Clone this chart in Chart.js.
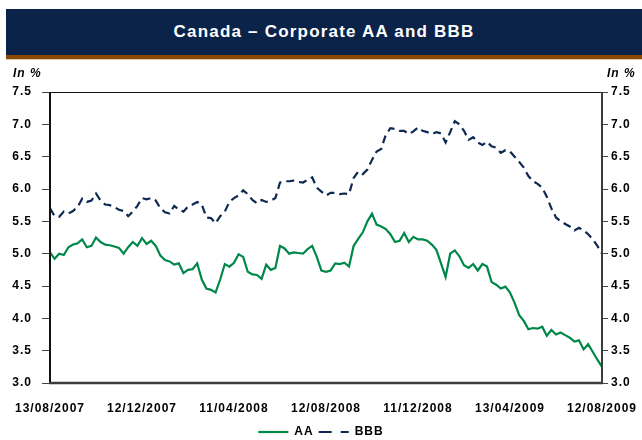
<!DOCTYPE html>
<html>
<head>
<meta charset="utf-8">
<script src="https://cdn.jsdelivr.net/npm/chart.js@4.4.1/dist/chart.umd.min.js"></script>
<style>
  body { margin: 0; background: #fff; }
  #wrap { position: relative; width: 642px; height: 440px; overflow: hidden; }
  #banner {
    position: absolute; left: 6px; top: 9px; width: 636px; height: 46px;
    background: #0b2349; color: #fff; text-align: center;
    font: bold 17px Arial, "Liberation Sans", sans-serif; letter-spacing: 1.2px;
    line-height: 46px;
  }
  #stripe { position: absolute; left: 6px; top: 55px; width: 636px; height: 4px; background: #8a4a06; }
  #stripe2 { position: absolute; left: 6px; top: 59px; width: 636px; height: 1px; background: #dcc8ac; }
  .unit {
    position: absolute; top: 66px; font: italic bold 12px Arial, "Liberation Sans", sans-serif;
    letter-spacing: 1px; color: #000;
  }
  canvas { position: absolute; left: 0; top: 0; }
</style>
</head>
<body>
<div id="wrap">
  <canvas id="rateChart" width="642" height="440"></canvas>
  <div id="banner">Canada – Corporate AA and BBB</div>
  <div id="stripe"></div>
  <div id="stripe2"></div>
  <div class="unit" style="left:13px">In %</div>
  <div class="unit" style="left:607px">In %</div>
</div>
<script>
  // x axis labels, one every 20 weekly points
  const tickLabels = ['13/08/2007', '12/12/2007', '11/04/2008', '12/08/2008', '11/12/2008', '13/04/2009', '12/08/2009'];

  // weekly readings, 13/08/2007 .. 12/08/2009
  const aa = [
    5.02, 4.92, 5.00, 4.98, 5.10, 5.14, 5.16, 5.22, 5.10, 5.12,
    5.25, 5.18, 5.14, 5.13, 5.11, 5.09, 5.00, 5.10, 5.18, 5.12,
    5.24, 5.15, 5.20, 5.12, 4.97, 4.90, 4.88, 4.83, 4.85, 4.70,
    4.75, 4.76, 4.85, 4.60, 4.46, 4.44, 4.40, 4.60, 4.84, 4.80,
    4.86, 4.99, 4.95, 4.72, 4.68, 4.67, 4.61, 4.83, 4.75, 4.78,
    5.12, 5.08, 5.00, 5.02, 5.01, 5.00, 5.07, 5.12, 4.95, 4.74,
    4.72, 4.74, 4.85, 4.84, 4.86, 4.80, 5.12, 5.23, 5.33, 5.50,
    5.62, 5.45, 5.42, 5.38, 5.30, 5.18, 5.20, 5.32, 5.18, 5.26,
    5.22, 5.22, 5.20, 5.14, 5.06, 4.85, 4.64, 5.00, 5.05, 4.96,
    4.82, 4.78, 4.84, 4.74, 4.84, 4.80, 4.56, 4.52, 4.46, 4.49,
    4.40, 4.24, 4.05, 3.96, 3.83, 3.85, 3.84, 3.87, 3.73, 3.82,
    3.75, 3.78, 3.74, 3.70, 3.64, 3.66, 3.52, 3.60, 3.48, 3.36,
    3.25
  ];
  const bbb = [
    5.70, 5.58, 5.57, 5.65, 5.62, 5.66, 5.72, 5.85, 5.80, 5.82,
    5.93, 5.82, 5.76, 5.75, 5.72, 5.68, 5.66, 5.58, 5.65, 5.74,
    5.86, 5.84, 5.86, 5.82, 5.70, 5.64, 5.62, 5.74, 5.68, 5.65,
    5.73, 5.76, 5.80, 5.76, 5.56, 5.55, 5.47, 5.58, 5.65, 5.80,
    5.86, 5.90, 5.98, 5.92, 5.83, 5.78, 5.83, 5.80, 5.82, 5.86,
    6.10, 6.12, 6.12, 6.13, 6.11, 6.10, 6.14, 6.18, 6.02, 5.96,
    5.90, 5.94, 5.94, 5.92, 5.93, 5.92, 6.17, 6.27, 6.23, 6.30,
    6.45, 6.58, 6.62, 6.84, 6.94, 6.93, 6.90, 6.90, 6.85, 6.89,
    6.95, 6.90, 6.88, 6.85, 6.88, 6.86, 6.72, 6.88, 7.05, 7.00,
    6.90, 6.76, 6.80, 6.72, 6.68, 6.73, 6.66, 6.64, 6.56, 6.60,
    6.58, 6.50, 6.42, 6.33, 6.20, 6.12, 6.08, 6.02, 5.88, 5.70,
    5.56, 5.50, 5.46, 5.42, 5.36, 5.40, 5.36, 5.30, 5.22, 5.12,
    5.00
  ];

  const weeks = aa.map((v, i) => i);
  const font = { family: 'Arial, "Liberation Sans", sans-serif', size: 12, weight: 'bold' };

  // canvas letter spacing, the reference text is set wide
  const spacing = {
    id: 'spacing',
    beforeLayout(c) { c.ctx.letterSpacing = '1px'; },
    beforeDraw(c) { c.ctx.letterSpacing = '1px'; }
  };

  // plot frame
  const frame = {
    id: 'frame',
    afterDatasetsDraw(c) {
      const a = c.chartArea, ctx = c.ctx;
      ctx.save();
      ctx.setLineDash([]);
      ctx.strokeStyle = '#111';
      ctx.lineWidth = 1;
      ctx.beginPath(); ctx.moveTo(a.left, a.top + 0.5); ctx.lineTo(a.right, a.top + 0.5); ctx.stroke();
      ctx.lineWidth = 2;
      ctx.beginPath(); ctx.moveTo(a.left, a.top); ctx.lineTo(a.left, a.bottom); ctx.stroke();
      ctx.strokeStyle = '#3c3c3c';
      ctx.beginPath(); ctx.moveTo(a.right, a.top); ctx.lineTo(a.right, a.bottom + 1); ctx.stroke();
      ctx.lineWidth = 2.5;
      ctx.beginPath(); ctx.moveTo(a.left - 1, a.bottom); ctx.lineTo(a.right + 1, a.bottom); ctx.stroke();
      ctx.restore();
    }
  };

  const yTicks = {
    color: '#000', font: font, padding: 10,
    stepSize: 0.5,
    callback: v => v.toFixed(1)
  };

  new Chart(document.getElementById('rateChart'), {
    type: 'line',
    data: {
      labels: weeks,
      datasets: [{
        label: 'AA',
        data: aa,
        borderColor: '#00874a',
        backgroundColor: '#00874a',
        borderWidth: 2.2,
        pointRadius: 0,
        tension: 0
      }, {
        label: 'BBB',
        data: bbb,
        borderColor: '#0d2851',
        backgroundColor: '#0d2851',
        borderWidth: 2.2,
        borderDash: [8, 5],
        pointRadius: 0,
        tension: 0
      }]
    },
    options: {
      responsive: false,
      animation: false,
      layout: { padding: { top: 92, left: 0, right: 0, bottom: -8 } },
      plugins: {
        legend: {
          position: 'bottom',
          labels: {
            color: '#000', font: font, boxWidth: 30, padding: 5,
            usePointStyle: true, pointStyle: 'line', pointStyleWidth: 30,
            generateLabels(chart) {
              const items = Chart.defaults.plugins.legend.labels.generateLabels(chart);
              items.forEach(it => {
                it.lineWidth = 2.2;
                if (it.text === 'BBB') it.lineDash = [13, 9];
              });
              return items;
            }
          }
        },
        tooltip: { enabled: false }
      },
      scales: {
        x: {
          type: 'linear',
          min: 0, max: 120,
          grid: { display: false },
          border: { display: false },
          ticks: {
            color: '#000', font: font, padding: 10,
            stepSize: 20, maxRotation: 0, autoSkip: false,
            callback: v => tickLabels[v / 20]
          },
          afterFit(s) { s.height = 38; s.paddingLeft = 0; s.paddingRight = 0; }
        },
        y: {
          position: 'left',
          min: 3, max: 7.5,
          grid: { drawOnChartArea: false, tickLength: 8, color: '#444' },
          border: { display: false },
          ticks: yTicks,
          afterFit(s) { s.width = 50; }
        },
        y2: {
          position: 'right',
          min: 3, max: 7.5,
          grid: { drawOnChartArea: false, tickLength: 6, color: '#444' },
          border: { display: false },
          ticks: Object.assign({}, yTicks, { padding: 3 }),
          afterFit(s) { s.width = 40; }
        }
      }
    },
    plugins: [spacing, frame]
  });
</script>
</body>
</html>
